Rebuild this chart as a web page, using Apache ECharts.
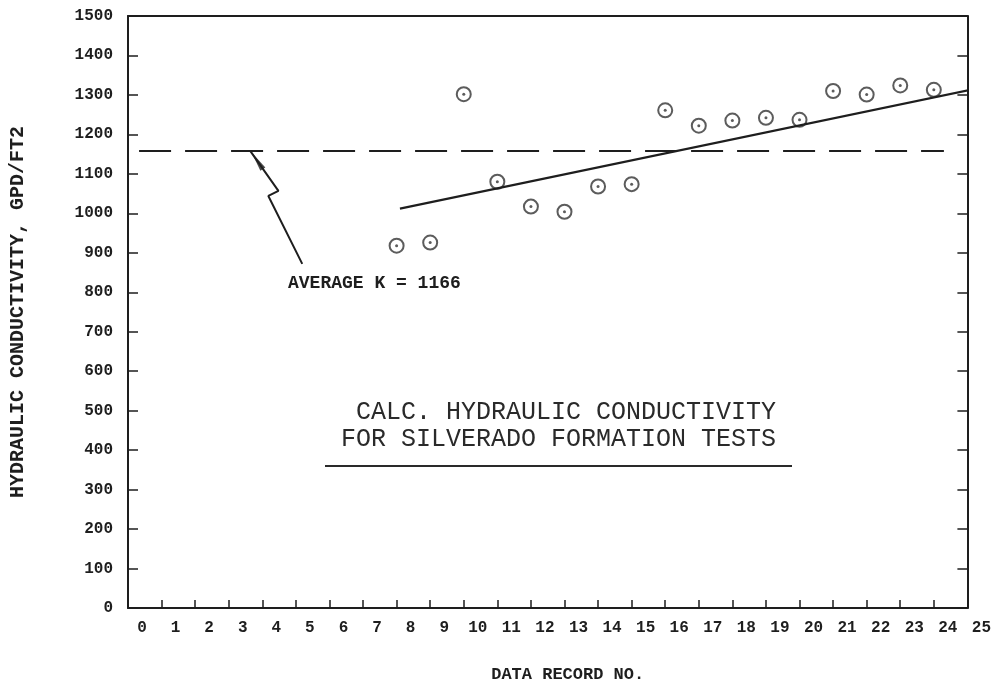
<!DOCTYPE html>
<html>
<head>
<meta charset="utf-8">
<script src="https://cdn.jsdelivr.net/npm/echarts@6/dist/echarts.min.js"></script>
<style>
  html, body { margin: 0; padding: 0; background: #fff; }
  #chart { width: 994px; height: 688px; }
</style>
</head>
<body>
<div id="chart"></div>
<script>
// ---- data ----
const records = [8, 9, 10, 11, 12, 13, 14, 15, 16, 17, 18, 19, 20, 21, 22, 23, 24];
const conductivity = [918, 926, 1302, 1080, 1017, 1004, 1068, 1074, 1261, 1222, 1235, 1242, 1237, 1310, 1301, 1324, 1313];
const averageK = 1158;               // dashed average line (labelled 1166)
const averageSpan = [0.33, 24.3];    // x extent of the dashed line
const trendX = [8.1, 25.44];         // fitted trend line ends
const trendY = [1012, 1319];
const arrowX = [3.65, 4.48, 4.18, 5.19];   // zig-zag leader from label to average line
const arrowY = [1157, 1057, 1044, 872];
const xMin = 0, xMax = 25, xStep = 1;
const yMin = 0, yMax = 1500, yStep = 100;
const yAxisTitle = 'HYDRAULIC CONDUCTIVITY, GPD/FT2';
const xAxisTitle = 'DATA RECORD NO.';
const averageLabel = 'AVERAGE K = 1166';
const titleLines = ['CALC. HYDRAULIC CONDUCTIVITY', 'FOR SILVERADO FORMATION TESTS'];

const ink = '#1e1e1e';
const mono = "'Liberation Mono', 'DejaVu Sans Mono', monospace";

const chart = echarts.init(document.getElementById('chart'), null, { renderer: 'canvas' });

const points = records.map((r, i) => [r, conductivity[i]]);

chart.setOption({
  backgroundColor: '#ffffff',
  animation: false,
  grid: { left: 127, right: 24, top: 16, bottom: 73, show: false },
  xAxis: [{
    type: 'value', min: xMin, max: xMax, interval: xStep,
    axisLine: { show: true, onZero: false, lineStyle: { color: ink, width: 2 } },
    axisTick: { show: true, inside: true, length: 8, lineStyle: { color: ink, width: 1.5 } },
    axisLabel: { show: true, margin: 12, padding: [0, 0, 0, 28], color: ink,
      fontFamily: mono, fontWeight: 'bold', fontSize: 16, formatter: v => String(v) },
    splitLine: { show: false },
    name: xAxisTitle, nameLocation: 'middle', nameGap: 58,
    nameTextStyle: { color: ink, fontFamily: mono, fontWeight: 'bold', fontSize: 17, padding: [0, 0, 0, 40] }
  }, {
    type: 'value', min: xMin, max: xMax, position: 'top',
    axisLine: { show: true, onZero: false, lineStyle: { color: ink, width: 2 } },
    axisTick: { show: false }, axisLabel: { show: false }, splitLine: { show: false }
  }],
  yAxis: [{
    type: 'value', min: yMin, max: yMax, interval: yStep,
    axisLine: { show: true, onZero: false, lineStyle: { color: ink, width: 2 } },
    axisTick: { show: true, inside: true, length: 10, lineStyle: { color: ink, width: 1.5 } },
    axisLabel: { show: true, margin: 15, color: ink, fontFamily: mono, fontWeight: 'bold', fontSize: 16,
      formatter: v => String(v) },
    splitLine: { show: false },
    name: yAxisTitle, nameLocation: 'middle', nameGap: 100, nameRotate: 90,
    nameTextStyle: { color: ink, fontFamily: mono, fontWeight: 'bold', fontSize: 20 }
  }, {
    type: 'value', min: yMin, max: yMax, interval: yStep, position: 'right',
    axisLine: { show: true, onZero: false, lineStyle: { color: ink, width: 2 } },
    axisTick: { show: true, inside: true, length: 10, lineStyle: { color: ink, width: 1.5 } },
    axisLabel: { show: false }, splitLine: { show: false }
  }],
  series: [
    {
      name: 'average', type: 'line', xAxisIndex: 0, yAxisIndex: 0,
      data: [[averageSpan[0], averageK], [averageSpan[1], averageK]],
      symbol: 'none', silent: true,
      lineStyle: { color: ink, width: 2.2, type: [32, 14] }
    },
    {
      name: 'trend', type: 'line', xAxisIndex: 0, yAxisIndex: 0, clip: false,
      data: [[trendX[0], trendY[0]], [trendX[1], trendY[1]]],
      symbol: 'none', silent: true,
      lineStyle: { color: ink, width: 2.2 }
    },
    {
      name: 'leader', type: 'line', xAxisIndex: 0, yAxisIndex: 0,
      data: arrowX.map((x, i) => [x, arrowY[i]]),
      symbol: 'none', silent: true,
      lineStyle: { color: ink, width: 2 }
    },
    {
      name: 'arrowhead', type: 'scatter', xAxisIndex: 0, yAxisIndex: 0,
      data: [[arrowX[0] + 0.2, arrowY[0] - 24]],
      symbol: 'triangle', symbolSize: [6, 20], symbolRotate: 34, silent: true,
      itemStyle: { color: ink }
    },
    {
      name: 'K', type: 'scatter', xAxisIndex: 0, yAxisIndex: 0,
      data: points, symbol: 'circle', symbolSize: 14, silent: true,
      itemStyle: { color: '#ffffff', borderColor: '#333', borderWidth: 2 }
    },
    {
      name: 'Kdot', type: 'scatter', xAxisIndex: 0, yAxisIndex: 0,
      data: points, symbol: 'circle', symbolSize: 3, silent: true,
      itemStyle: { color: '#333' }
    }
  ],
  graphic: [
    { type: 'text', left: 288, top: 274, silent: true,
      style: { text: averageLabel, fill: ink, font: "bold 18px 'Liberation Mono', monospace" } },
    { type: 'text', x: 776, y: 412, silent: true,
      style: { text: titleLines[0], fill: '#2a2a2a', align: 'right', verticalAlign: 'middle',
        font: "25px 'Liberation Mono', monospace" } },
    { type: 'text', x: 776, y: 439, silent: true,
      style: { text: titleLines[1], fill: '#2a2a2a', align: 'right', verticalAlign: 'middle',
        font: "25px 'Liberation Mono', monospace" } },
    { type: 'line', silent: true, shape: { x1: 325, y1: 466, x2: 792, y2: 466 },
      style: { stroke: '#2a2a2a', lineWidth: 2 } }
  ]
});
</script>
</body>
</html>
